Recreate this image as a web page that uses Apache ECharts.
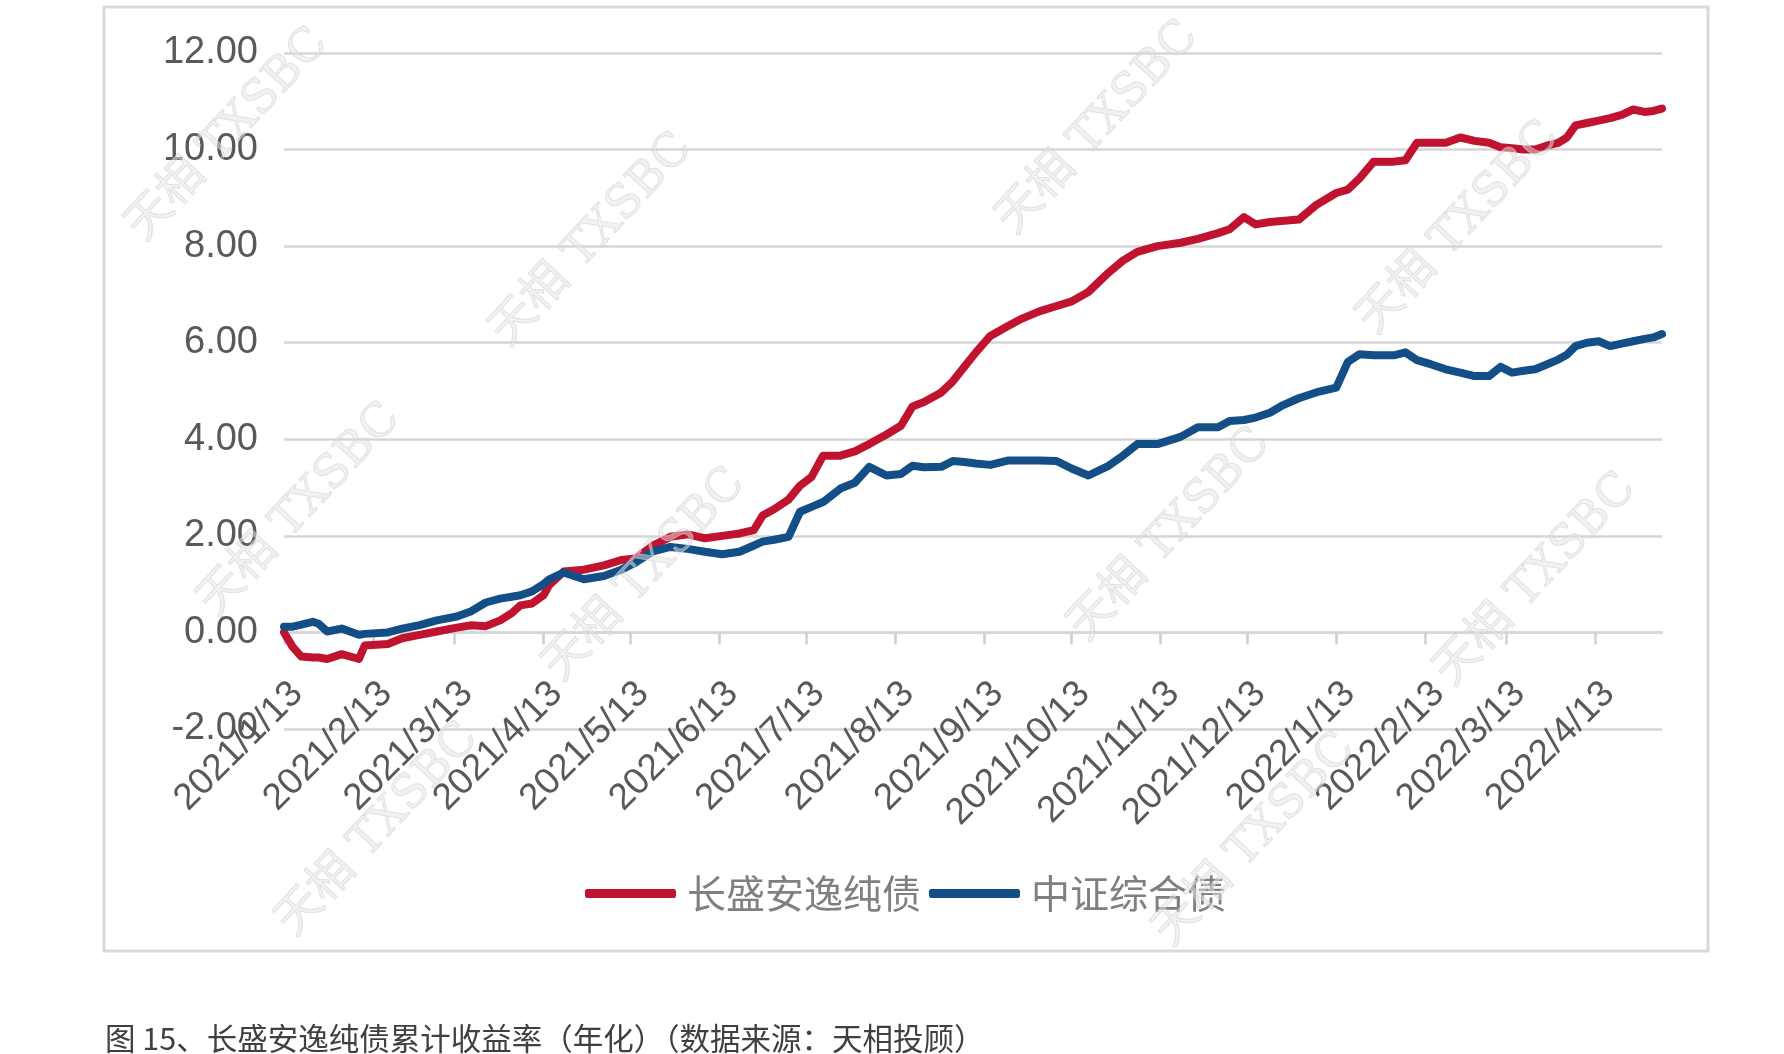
<!DOCTYPE html>
<html>
<head>
<meta charset="utf-8">
<script src="https://cdn.jsdelivr.net/npm/echarts@6/dist/echarts.min.js"></script>
<style>
html,body{margin:0;padding:0;background:#ffffff;}
#chart{width:1784px;height:1054px;}
</style>
</head>
<body>
<div id="chart"></div>
<script>
// ---------------- data ----------------
const seriesNames = ['长盛安逸纯债', '中证综合债'];

const sampleDates = [
  '2021/1/13','2021/1/16','2021/1/19','2021/1/23','2021/1/25','2021/1/28',
  '2021/2/2','2021/2/8','2021/2/10','2021/2/18','2021/2/23',
  '2021/3/1','2021/3/7','2021/3/14','2021/3/19','2021/3/24','2021/3/29',
  '2021/4/2','2021/4/5','2021/4/9','2021/4/13','2021/4/15','2021/4/20','2021/4/27',
  '2021/5/4','2021/5/10','2021/5/15','2021/5/21','2021/5/27',
  '2021/6/2','2021/6/8','2021/6/14','2021/6/20','2021/6/25','2021/6/28',
  '2021/7/2','2021/7/7','2021/7/11','2021/7/15','2021/7/19','2021/7/25','2021/7/30',
  '2021/8/4','2021/8/10','2021/8/15','2021/8/19','2021/8/23','2021/8/29',
  '2021/9/2','2021/9/6','2021/9/10','2021/9/15','2021/9/21','2021/9/26',
  '2021/10/2','2021/10/8','2021/10/13','2021/10/19','2021/10/26','2021/10/31',
  '2021/11/5','2021/11/12','2021/11/20','2021/11/26',
  '2021/12/3','2021/12/7','2021/12/12','2021/12/16','2021/12/21','2021/12/25','2021/12/31',
  '2022/1/6','2022/1/13','2022/1/17','2022/1/21','2022/1/26',
  '2022/2/2','2022/2/6','2022/2/10','2022/2/15','2022/2/20','2022/2/25',
  '2022/3/2','2022/3/7','2022/3/11','2022/3/15','2022/3/19','2022/3/23','2022/3/27','2022/3/31',
  '2022/4/3','2022/4/6','2022/4/10','2022/4/14','2022/4/18','2022/4/22','2022/4/26','2022/4/30',
  '2022/5/3','2022/5/6'
];

// 长盛安逸纯债 cumulative return (%)
const fundValues = [
  0.0, -0.3, -0.5, -0.52, -0.52, -0.55,
  -0.45, -0.55, -0.27, -0.24, -0.12,
  -0.05, 0.02, 0.1, 0.15, 0.13, 0.25,
  0.4, 0.56, 0.6, 0.77, 0.98, 1.26, 1.3,
  1.39, 1.5, 1.53, 1.8, 1.98,
  2.03, 1.95, 2.0, 2.05, 2.12, 2.42,
  2.55, 2.75, 3.04, 3.22, 3.66, 3.66, 3.75,
  3.9, 4.1, 4.28, 4.68, 4.77, 4.97,
  5.2, 5.5, 5.8, 6.14, 6.34, 6.5,
  6.65, 6.76, 6.85, 7.05, 7.45, 7.7,
  7.88, 8.0, 8.07, 8.15,
  8.27, 8.35, 8.6, 8.45, 8.5, 8.52, 8.55,
  8.85, 9.1, 9.17, 9.4, 9.75,
  9.75, 9.78, 10.14, 10.14, 10.14, 10.25,
  10.18, 10.14, 10.05, 10.03, 10.0, 10.0, 10.08, 10.14,
  10.25, 10.5, 10.55, 10.6, 10.65, 10.72, 10.83, 10.78,
  10.8, 10.85
];

// 中证综合债 cumulative return (%)
const indexValues = [
  0.12, 0.12, 0.16, 0.22, 0.18, 0.02,
  0.08, -0.05, -0.03, 0.0, 0.08,
  0.15, 0.25, 0.33, 0.44, 0.62, 0.7,
  0.74, 0.77, 0.85, 1.0, 1.1, 1.24, 1.1,
  1.17, 1.3, 1.45, 1.68, 1.77,
  1.73, 1.67, 1.62, 1.67, 1.8, 1.88,
  1.92, 1.98, 2.5, 2.6, 2.7, 2.98, 3.1,
  3.43, 3.25, 3.28, 3.45, 3.42, 3.43,
  3.55, 3.53, 3.5, 3.47, 3.56, 3.56,
  3.56, 3.55, 3.4, 3.25, 3.45, 3.66,
  3.9, 3.9, 4.05, 4.25,
  4.25, 4.38, 4.4, 4.45, 4.55, 4.69, 4.85,
  4.97, 5.07, 5.6, 5.76, 5.74,
  5.74, 5.8, 5.64, 5.55, 5.45, 5.38,
  5.31, 5.31, 5.5, 5.38, 5.42, 5.45, 5.55, 5.65,
  5.75, 5.93, 6.0, 6.03, 5.93, 5.98, 6.03, 6.08,
  6.11, 6.18
];

const tickLabels = [
  '2021/1/13','2021/2/13','2021/3/13','2021/4/13','2021/5/13','2021/6/13',
  '2021/7/13','2021/8/13','2021/9/13','2021/10/13','2021/11/13','2021/12/13',
  '2022/1/13','2022/2/13','2022/3/13','2022/4/13'
];

const axisStart = [2021, 0, 13];
const axisEnd = [2022, 4, 6];
const yMin = -2, yMax = 12, yStep = 2;

const captionText = '图 15、长盛安逸纯债累计收益率（年化）（数据来源：天相投顾）';
const watermarkText = '天相 TXSBC';

// ---------------- build ----------------
function fmt(d) { return d.getFullYear() + '/' + (d.getMonth() + 1) + '/' + d.getDate(); }
const categories = [];
{
  const end = new Date(axisEnd[0], axisEnd[1], axisEnd[2]);
  const d = new Date(axisStart[0], axisStart[1], axisStart[2]);
  while (d <= end) { categories.push(fmt(d)); d.setDate(d.getDate() + 1); }
}
const tickSet = new Set(tickLabels);
const showTick = (idx, val) => tickSet.has(val);
const toPairs = vals => sampleDates.map((t, i) => [categories.indexOf(t), vals[i]]);

const COLORS = ['#C0132F', '#134F86'];

const watermarkPos = [
  [228, 135], [592, 240], [1098, 128], [1459, 228],
  [300, 510], [645, 575], [1170, 535], [1536, 580],
  [378, 830], [1255, 840]
];
const wmGraphics = watermarkPos.map(p => ({
  type: 'text', x: p[0], y: p[1], rotation: 47 * Math.PI / 180, z: 100,
  style: {
    text: watermarkText, x: 0, y: 0, align: 'center', verticalAlign: 'middle',
    font: '46px "DejaVu Serif", "Noto Sans CJK SC", serif',
    fill: 'rgba(228,228,228,0.5)', stroke: 'rgba(200,200,200,0.55)', lineWidth: 1
  },
  silent: true
}));

const chart = echarts.init(document.getElementById('chart'), null, { renderer: 'canvas' });
chart.setOption({
  animation: false,
  backgroundColor: '#ffffff',
  grid: { left: 284, right: 122, top: 53, bottom: 325, containLabel: false },
  legend: {
    data: seriesNames,
    left: 580, top: 869,
    icon: 'roundRect', itemWidth: 91, itemHeight: 9, itemGap: 8,
    textStyle: { fontFamily: '"Noto Sans CJK SC", sans-serif', fontSize: 39, color: '#808080', padding: [0, 0, 0, 6] }
  },
  xAxis: {
    type: 'category',
    data: categories,
    boundaryGap: false,
    axisLine: { onZero: true, lineStyle: { color: '#d6d6d6', width: 2.5 } },
    axisTick: { show: true, interval: showTick, length: 12, lineStyle: { color: '#d0d0d0', width: 2.5 } },
    axisLabel: {
      interval: showTick, rotate: 45, margin: -54, verticalAlign: 'top',
      fontFamily: '"Liberation Sans", Arial, sans-serif', fontSize: 37, color: '#595959'
    },
    splitLine: { show: false }
  },
  yAxis: {
    type: 'value',
    min: yMin, max: yMax, interval: yStep,
    axisLine: { show: false },
    axisTick: { show: false },
    axisLabel: {
      margin: 26, formatter: v => v.toFixed(2),
      fontFamily: '"Liberation Sans", Arial, sans-serif', fontSize: 38, color: '#595959'
    },
    splitLine: { lineStyle: { color: '#d6d6d6', width: 2.5 } }
  },
  series: [
    {
      name: seriesNames[0], type: 'line', data: toPairs(fundValues),
      showSymbol: false, symbol: 'none', color: COLORS[0],
      lineStyle: { width: 8, color: COLORS[0], join: 'round', cap: 'round' }
    },
    {
      name: seriesNames[1], type: 'line', data: toPairs(indexValues),
      showSymbol: false, symbol: 'none', color: COLORS[1],
      lineStyle: { width: 8, color: COLORS[1], join: 'round', cap: 'round' }
    }
  ],
  graphic: [
    {
      type: 'rect', z: -1, silent: true,
      shape: { x: 104, y: 7, width: 1604, height: 944 },
      style: { fill: 'none', stroke: '#d9d9d9', lineWidth: 3 }
    },
    {
      type: 'text', x: 105, y: 1038, silent: true,
      style: {
        text: captionText, align: 'left', verticalAlign: 'middle',
        font: '30.5px "Noto Sans CJK SC", sans-serif', fill: '#404040'
      }
    }
  ].concat(wmGraphics)
});
</script>
</body>
</html>
